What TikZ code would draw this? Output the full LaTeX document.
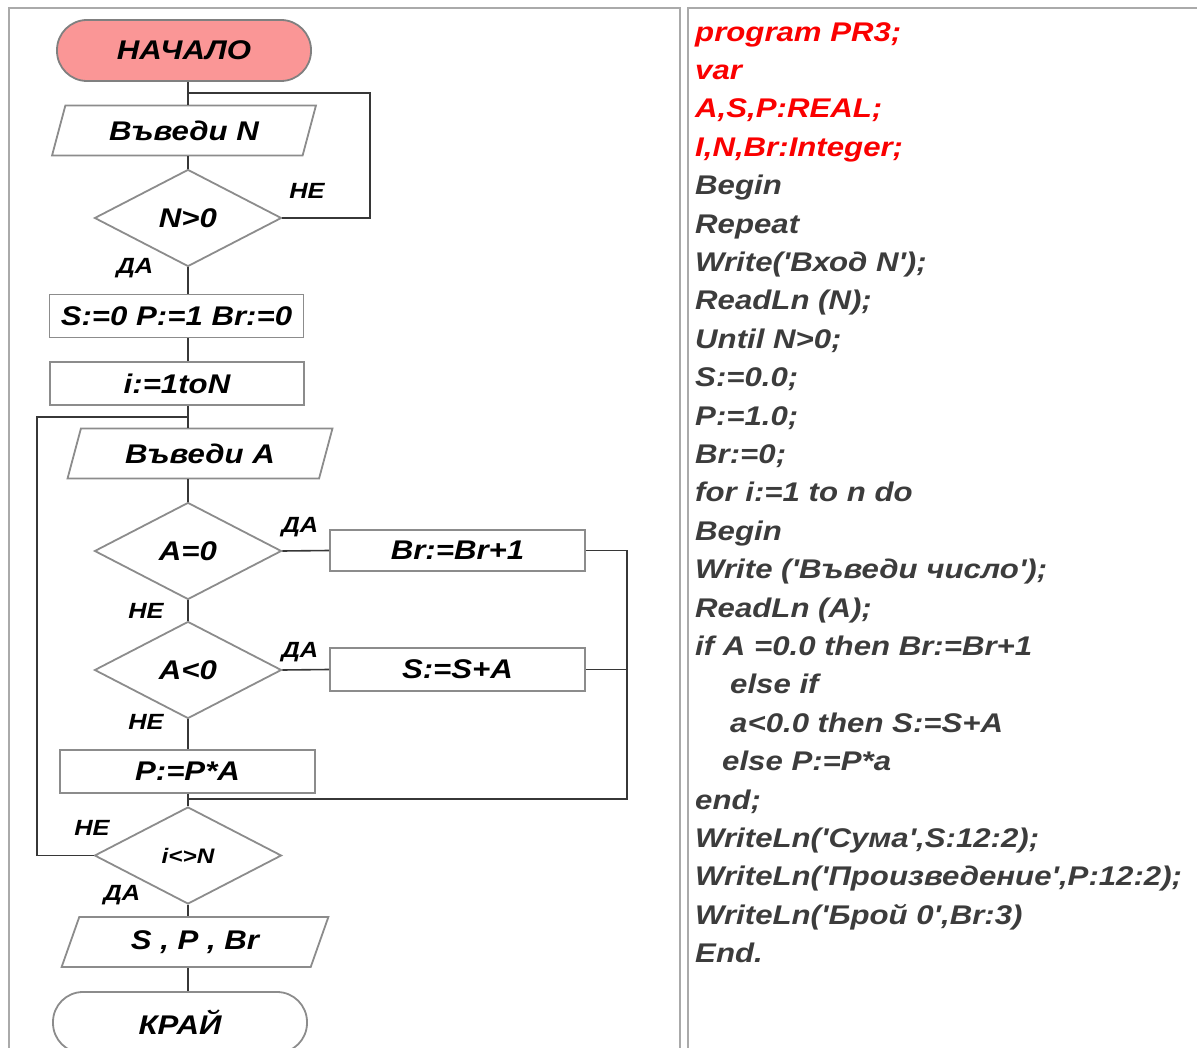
\documentclass[tikz,border=0pt]{standalone}
\usepackage{fontspec}
\setmainfont{Liberation Sans}[FakeStretch=1.155, Ligatures=TeXOff]
\usetikzlibrary{shapes.geometric}

\definecolor{startpink}{RGB}{250,150,150}
\definecolor{codered}{RGB}{250,0,0}
\definecolor{codegray}{RGB}{60,60,60}
\definecolor{edgegray}{RGB}{140,140,140}
\definecolor{linegray}{RGB}{55,55,55}
\definecolor{cellgray}{RGB}{170,170,170}

\tikzset{
  box/.style={draw=edgegray, line width=1.8pt, inner sep=0pt, text=black,
    font=\bfseries\itshape\fontsize{27}{30}\selectfont},
  term/.style={box, rectangle, rounded corners=30pt, minimum width=254pt, minimum height=61pt},
  proc/.style={box, rectangle, minimum width=254pt, minimum height=43pt},
  io/.style={box, trapezium, trapezium left angle=67, trapezium right angle=113,
    trapezium stretches=true, minimum width=264pt, minimum height=50pt},
  cond/.style={box, diamond, aspect=1.9, minimum width=187pt, minimum height=97pt},
  lbl/.style={inner sep=0pt, font=\bfseries\itshape\fontsize{22}{24}\selectfont},
  flow/.style={draw=linegray, line width=1.6pt},
  cell/.style={draw=cellgray, line width=2pt},
  code/.style={inner sep=0pt, align=left, text=codegray,
    font=\bfseries\itshape\fontsize{27}{38.4}\selectfont}
}

\begin{document}
\begin{tikzpicture}[x=1pt,y=-1pt]
  \clip (0,0) rectangle (1197,1048);
  % table cells
  \draw[cell] (9,1060) -- (9,8.5) -- (680,8.5) -- (680,1060);
  \draw[cell] (688,1060) -- (688,8.5) -- (1210,8.5);
  %
  % flowchart
  \node[term, fill=startpink, draw=gray] (start) at (184,50.5) {НАЧАЛО};
  \node[io] (inN) at (184,130.5) {Въведи N};
  \node[cond] (cN) at (188,218) {N>0};
  \node[proc] (init) at (176.5,316) {S:=0 P:=1 Br:=0};
  \node[proc] (loop) at (177,383.5) {i:=1toN};
  \node[io, minimum width=265pt] (inA) at (200,453.5) {Въведи A};
  \node[cond] (cZero) at (188,551) {A=0};
  \node[proc, minimum width=255pt, minimum height=41pt] (incBr) at (457.5,550.5) {Br:=Br+1};
  \node[cond] (cNeg) at (188,670) {A<0};
  \node[proc, minimum width=255pt] (addS) at (457.5,669.5) {S:=S+A};
  \node[proc, minimum width=255pt] (mulP) at (187.5,771.5) {P:=P*A};
  \node[cond, font=\bfseries\itshape\fontsize{21}{24}\selectfont] (cEnd) at (188,855.5) {i<>N};
  \node[io, minimum width=267pt] (outR) at (195,942) {S , P , Br};
  \node[term] (stop) at (180,1022.5) {КРАЙ};
  %
  \coordinate (axis) at (188,0);
  \coordinate (jN) at (188,93);
  \coordinate (backN) at (370,93);
  \coordinate (jA) at (188,417);
  \coordinate (backA) at (37,417);
  \coordinate (jP) at (188,799);
  \coordinate (merge) at (627,799);
  %
  \draw[flow] (start.south -| axis) -- (inN.north -| axis);
  \draw[flow] (inN.south -| axis) -- (cN.north);
  \draw[flow] (cN.east) -| (backN) -- (jN);
  \draw[flow] (cN.south) -- (init.north -| axis);
  \draw[flow] (init.south -| axis) -- (loop.north -| axis);
  \draw[flow] (loop.south -| axis) -- (inA.north -| axis);
  \draw[flow] (inA.south -| axis) -- (cZero.north);
  \draw[flow] (cZero.east) -- (incBr.west);
  \draw[flow] (cZero.south) -- (cNeg.north);
  \draw[flow] (cNeg.east) -- (addS.west);
  \draw[flow] (cNeg.south) -- (mulP.north -| axis);
  \draw[flow] (incBr.east) -| (merge) -- (jP);
  \draw[flow] (addS.east) -- (addS.east -| merge);
  \draw[flow] (mulP.south -| axis) -- (cEnd.north);
  \draw[flow] (cEnd.west) -| (backA) -- (jA);
  \draw[flow] (cEnd.south) -- (outR.north -| axis);
  \draw[flow] (outR.south -| axis) -- (stop.north -| axis);
  %
  \node[lbl] (noN) at (307,191) {НЕ};
  \node[lbl] (yesN) at (135,268) {ДА};
  \node[lbl] (yesZero) at (300,527) {ДА};
  \node[lbl] (noZero) at (146,611) {НЕ};
  \node[lbl] (yesNeg) at (300,652) {ДА};
  \node[lbl] (noNeg) at (146,722) {НЕ};
  \node[lbl] (noEnd) at (92,828) {НЕ};
  \node[lbl] (yesEnd) at (122,895) {ДА};
  %
  % program text
  \node[code, anchor=north west] (prog) at (695,22) {%
    \textcolor{codered}{program PR3;}\\
    \textcolor{codered}{var}\\
    \textcolor{codered}{A,S,P:REAL;}\\
    \textcolor{codered}{I,N,Br:Integer;}\\
    Begin\\
    Repeat\\
    Write('Вход N');\\
    ReadLn (N);\\
    Until N>0;\\
    S:=0.0;\\
    P:=1.0;\\
    Br:=0;\\
    for i:=1 to n do\\
    Begin\\
    Write ('Въведи число');\\
    ReadLn (A);\\
    if A =0.0 then Br:=Br+1\\
    \hspace*{35pt}else if\\
    \hspace*{35pt}a<0.0 then S:=S+A\\
    \hspace*{27pt}else P:=P*a\\
    end;\\
    WriteLn('Сума',S:12:2);\\
    WriteLn('Произведение',P:12:2);\\
    WriteLn('Брой 0',Br:3)\\
    End.};
\end{tikzpicture}
\end{document}
